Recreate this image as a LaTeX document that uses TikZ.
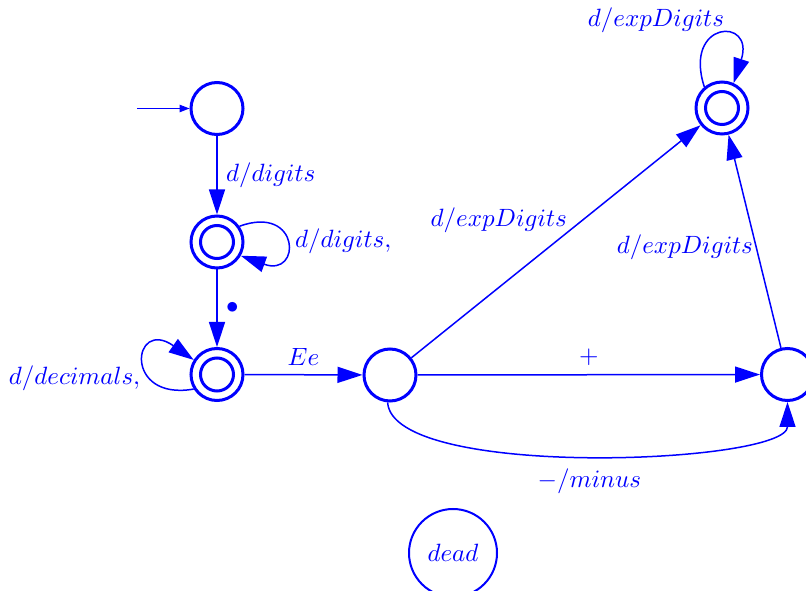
\documentclass[tikz,border=0pt]{standalone}
\usetikzlibrary{arrows.meta}
\definecolor{fsmblue}{RGB}{0,0,255}
\begin{document}
\begin{tikzpicture}[x=0.4pt,y=0.4pt,
  every node/.style={text=fsmblue},
  state/.style={circle,draw=fsmblue,line width=1.2pt,minimum size=20.8pt,inner sep=0pt},
  accepting/.style={state,path picture={\draw[fsmblue,line width=1.2pt] (path picture bounding box.center) circle (6.6pt);}},
  edge/.style={draw=fsmblue,line width=0.6pt,-{Triangle[length=10pt,width=6.4pt]}},
  startedge/.style={draw=fsmblue,line width=0.5pt,-{Triangle[length=4pt,width=3pt]}}]
\useasboundingbox (0,0) rectangle (806,-591);

\node[state] (A) at (217,-108.5) {};
\node[accepting] (B) at (217,-242) {};
\node[accepting] (C) at (217,-374.5) {};
\node[state] (D) at (390,-375) {};
\node[state] (E) at (787.5,-374.5) {};
\node[accepting] (F) at (722,-108) {};
\node[circle,draw=fsmblue,line width=0.8pt,minimum size=35.2pt,inner sep=0pt] (dead) at (453,-553) {$dead$};

\coordinate (s) at (137,-108.5);
\draw[startedge] (s) -- (A);

\draw[edge] (A) -- (B) node[midway,right] {$d/digits$};
\draw[edge] (B.35) .. controls +(20:65) and +(-20:65) .. (B.-30) node[midway,right] {$d/digits,$};
\draw[edge] (B) -- (C) node[midway,right] {$\bullet$};
\draw[edge] (C.212) .. controls +(190:72) and +(145:75) .. (C.148) node[pos=0.32,left] {$d/decimals,$};
\draw[edge] (C) -- (D) node[midway,above] {$Ee$};
\draw[edge] (D) -- (F) node[midway,above left,xshift=8pt] {$d/expDigits$};
\draw[edge] (D) -- (E) node[midway,above] {$+$};
\draw[edge] (D.-95) .. controls +(5,-78) and +(0,-62) .. (E.south) node[midway,below,yshift=-2pt] {$-/minus$};
\draw[edge] (E) -- (F) node[pos=0.47,left,inner sep=1pt] {$d/expDigits$};
\draw[edge] (F.130) .. controls +(108:70) and +(72:70) .. (F.65);
\node (floop) at (656,-20) {$d/expDigits$};
\end{tikzpicture}
\end{document}
